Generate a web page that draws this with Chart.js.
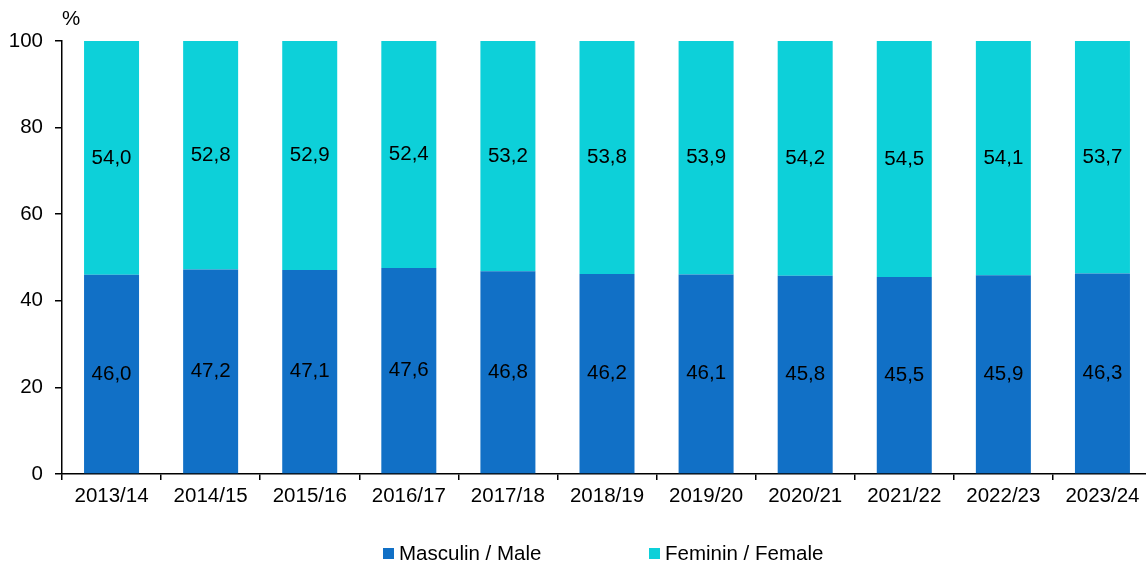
<!DOCTYPE html>
<html>
<head>
<meta charset="utf-8">
<script src="https://cdn.jsdelivr.net/npm/chart.js@4/dist/chart.umd.min.js"></script>
<style>
    html, body { margin: 0; padding: 0; overflow: hidden; background: #fff; }
    #wrap { position: relative; width: 1146px; height: 566px; overflow: hidden; font-family: "Liberation Sans", Arial, sans-serif; }
    #unit { position: absolute; left: 62px; top: 6px; font-size: 20.5px; color: #000; }
    #legend { position: absolute; top: 541px; left: 383px; font-size: 20.5px; line-height: 24px; color: #000; display: flex; }
    .item { display: flex; align-items: center; }
    .box { width: 11px; height: 11px; margin-right: 5px; }
</style>
</head>
<body>
<div id="wrap">
    <canvas id="chart" width="1152" height="566"></canvas>
    <div id="unit">%</div>
    <div id="legend">
        <div class="item" style="width:266px"><span class="box" style="background:#1170C6"></span>Masculin / Male</div>
        <div class="item"><span class="box" style="background:#0DD0D9"></span>Feminin / Female</div>
    </div>
</div>
<script>
const years = ["2013/14", "2014/15", "2015/16", "2016/17", "2017/18", "2018/19", "2019/20", "2020/21", "2021/22", "2022/23", "2023/24"];
const male = [46.0, 47.2, 47.1, 47.6, 46.8, 46.2, 46.1, 45.8, 45.5, 45.9, 46.3];
const female = [54.0, 52.8, 52.9, 52.4, 53.2, 53.8, 53.9, 54.2, 54.5, 54.1, 53.7];
const yTicks = [0, 20, 40, 60, 80, 100];

const font = { family: "'Liberation Sans', Arial, sans-serif", size: 20.5 };

// writes the value in the middle of each segment
const valueLabels = {
    id: "valueLabels",
    afterDatasetsDraw(chart) {
        const ctx = chart.ctx;
        ctx.save();
        ctx.font = "20.5px 'Liberation Sans', Arial, sans-serif";
        ctx.fillStyle = "#000";
        ctx.textAlign = "center";
        ctx.textBaseline = "middle";
        chart.data.datasets.forEach(function (ds, i) {
            chart.getDatasetMeta(i).data.forEach(function (bar, j) {
                const txt = ds.data[j].toFixed(1).replace(".", ",");
                ctx.fillText(txt, bar.x, (bar.y + bar.base) / 2);
            });
        });
        ctx.restore();
    }
};

new Chart(document.getElementById("chart"), {
    type: "bar",
    data: {
        labels: years,
        datasets: [
            { label: "Masculin / Male", data: male, backgroundColor: "#1170C6", barPercentage: 0.555, categoryPercentage: 1 },
            { label: "Feminin / Female", data: female, backgroundColor: "#0DD0D9", barPercentage: 0.555, categoryPercentage: 1 }
        ]
    },
    options: {
        responsive: false,
        animation: false,
        layout: { padding: { top: 41, right: 0, left: 0, bottom: 0 } },
        plugins: {
            legend: { display: false },
            tooltip: { enabled: false }
        },
        scales: {
            x: {
                stacked: true,
                afterFit: function (s) { s.height = 92; },
                grid: { drawOnChartArea: false, drawTicks: true, tickLength: 6, color: "#000", lineWidth: 1.5 },
                border: { color: "#000", width: 1.5 },
                ticks: { font: font, color: "#000", padding: 4, maxRotation: 0 }
            },
            y: {
                stacked: true,
                min: 0,
                max: 100,
                afterFit: function (s) { s.width = 62; },
                afterBuildTicks: function (s) { s.ticks = yTicks.map(v => ({ value: v })); },
                grid: { drawOnChartArea: false, drawTicks: true, tickLength: 7, color: "#000", lineWidth: 1.5 },
                border: { color: "#000", width: 1.5 },
                ticks: { font: font, color: "#000", padding: 12 }
            }
        }
    },
    plugins: [valueLabels]
});
</script>
</body>
</html>
